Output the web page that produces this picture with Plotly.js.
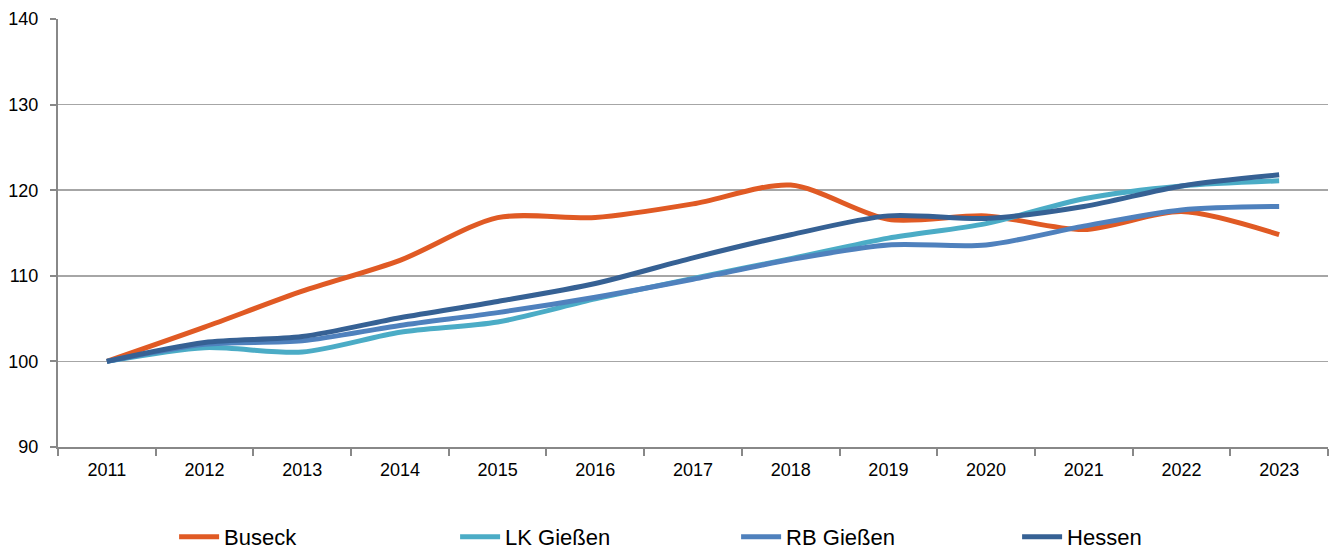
<!DOCTYPE html>
<html>
<head>
<meta charset="utf-8">
<script src="https://cdn.plot.ly/plotly-3.0.1.min.js"></script>
<style>
  html, body { margin: 0; padding: 0; background: #fff; }
  #chart { width: 1329px; height: 554px; }
</style>
</head>
<body>
<div id="chart"></div>
<script>
const years = ['2011', '2012', '2013', '2014', '2015', '2016', '2017', '2018', '2019', '2020', '2021', '2022', '2023'];
const buseck = [100, 104.0, 108.2, 111.8, 116.8, 116.8, 118.4, 120.6, 116.6, 117.0, 115.4, 117.5, 114.8];
const lkGiessen = [100, 101.6, 101.1, 103.4, 104.6, 107.3, 109.7, 112.0, 114.4, 116.1, 119.0, 120.5, 121.1];
const rbGiessen = [100, 102.0, 102.4, 104.2, 105.7, 107.5, 109.6, 111.9, 113.6, 113.6, 115.8, 117.7, 118.1];
const hessen = [100, 102.2, 102.9, 105.1, 107.0, 109.1, 112.1, 114.8, 117.0, 116.7, 118.1, 120.5, 121.8];

const fontFam = '"Liberation Sans", Arial, sans-serif';

function series(name, y, color) {
  return {
    x: years,
    y: y,
    name: name,
    type: 'scatter',
    mode: 'lines',
    line: { color: color, width: 5, shape: 'spline', smoothing: 0.8 }
  };
}

const data = [
  series('Buseck', buseck, '#E05A24'),
  series('LK Gießen', lkGiessen, '#4BACC6'),
  series('RB Gießen', rbGiessen, '#4F81BD'),
  series('Hessen', hessen, '#366194')
];

const layout = {
  width: 1329,
  height: 554,
  margin: { l: 58, r: 1, t: 19, b: 107 },
  paper_bgcolor: '#fff',
  plot_bgcolor: '#fff',
  font: { family: fontFam, size: 18, color: '#000' },
  showlegend: true,
  legend: {
    orientation: 'h',
    xref: 'container',
    yref: 'container',
    x: 0.131,
    xanchor: 'left',
    y: 0.031,
    yanchor: 'middle',
    font: { family: fontFam, size: 22, color: '#000' },
    itemwidth: 40,
    entrywidth: 226,
    entrywidthmode: 'pixels',
    traceorder: 'normal'
  },
  xaxis: {
    type: 'category',
    range: [-0.5, 12.5],
    showline: true,
    linecolor: '#888',
    linewidth: 2,
    ticks: 'outside',
    tickson: 'boundaries',
    ticklen: 7,
    tickcolor: '#888',
    tickwidth: 2,
    showgrid: false,
    ticklabelstandoff: 5,
    tickfont: { family: fontFam, size: 18, color: '#000' },
    fixedrange: true
  },
  yaxis: {
    range: [90, 140],
    dtick: 10,
    tick0: 90,
    showline: true,
    linecolor: '#888',
    linewidth: 2,
    ticks: 'outside',
    ticklen: 6,
    tickcolor: '#888',
    tickwidth: 2,
    showgrid: true,
    gridcolor: '#a6a6a6',
    gridwidth: 1.5,
    zeroline: false,
    ticklabelstandoff: 8,
    tickfont: { family: fontFam, size: 18, color: '#000' },
    fixedrange: true
  }
};

Plotly.newPlot('chart', data, layout, { displayModeBar: false, staticPlot: true });
</script>
</body>
</html>
